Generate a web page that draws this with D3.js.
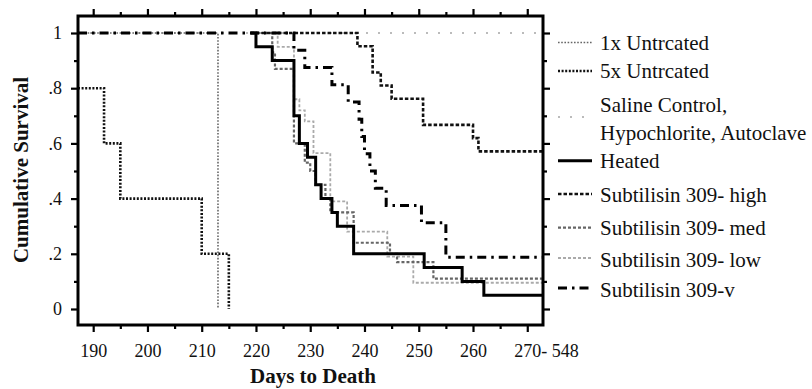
<!DOCTYPE html>
<html>
<head>
<meta charset="utf-8">
<script src="https://cdn.jsdelivr.net/npm/d3@7"></script>
<style>
  html, body { margin: 0; padding: 0; background: #fff; }
  svg { display: block; }
  text { font-family: "Liberation Serif", "Times New Roman", serif; fill: #111; }
</style>
</head>
<body>
<svg id="chart" width="812" height="389"></svg>
<script>
// ---- data ----
const xMajorTicks = [190, 200, 210, 220, 230, 240, 250, 260, 270];
const xMinorTicks = [195, 205, 215, 225, 235, 245, 255, 265];
const xTickLabels = ["190", "200", "210", "220", "230", "240", "250", "260", "270- 548"];
const yMajorTicks = [0, 0.2, 0.4, 0.6, 0.8, 1];
const yMinorTicks = [0.1, 0.3, 0.5, 0.7, 0.9];
const yTickLabels = ["0", ".2", ".4", ".6", ".8", "1"];

const seriesNames = ["1x Untrcated", "5x Untrcated", "Saline Control,|Hypochlorite, Autoclave",
  "Heated", "Subtilisin 309- high", "Subtilisin 309- med", "Subtilisin 309- low", "Subtilisin 309-v"];

// step points (day, cumulative survival)
const days1x = [187.2, 213];
const surv1x = [1, 0];
const days5x = [187.2, 192, 195, 210, 215];
const surv5x = [0.8, 0.6, 0.4, 0.2, 0];
const daysSaline = [187.2, 272.9];
const survSaline = [1, 1];
const daysHeated = [219, 220, 223, 227, 228, 229.5, 231, 232, 234, 235, 238, 251, 258, 262, 272.9];
const survHeated = [1, 0.95, 0.9, 0.7, 0.6, 0.55, 0.45, 0.4, 0.35, 0.3, 0.2, 0.15, 0.1, 0.05, 0.05];
const daysHigh = [219, 238.7, 241.5, 243, 245, 250.8, 260, 261, 272.9];
const survHigh = [1, 0.952, 0.857, 0.81, 0.762, 0.667, 0.619, 0.571, 0.571];
const daysMed = [219, 223, 223.5, 227, 229, 230, 231, 232.8, 233.7, 238, 244.7, 246, 252.7, 272.9];
const survMed = [1, 0.93, 0.87, 0.6, 0.53, 0.5, 0.45, 0.4, 0.35, 0.24, 0.2, 0.17, 0.11, 0.11];
const daysLow = [219, 224, 227, 228, 229, 230.6, 233.7, 236.8, 244.2, 249, 272.9];
const survLow = [1, 0.95, 0.76, 0.72, 0.68, 0.565, 0.39, 0.28, 0.19, 0.095, 0.095];
const daysV = [187.2, 227, 229, 234, 237, 239, 239.5, 240, 241, 242, 244, 250.5, 255, 272.9];
const survV = [1, 0.9375, 0.875, 0.8125, 0.75, 0.6875, 0.625, 0.5625, 0.5, 0.4375, 0.375, 0.3125, 0.1875, 0.1875];

// ---- layout ----
const svg = d3.select("#chart");
const L = 78, R = 543, T = 16, B = 325;
const x = d3.scaleLinear().domain([187.2, 272.9]).range([L, R]);
const y = d3.scaleLinear().domain([-0.058, 1.0616]).range([B, T]);

const styles = [
  { color: "#666", width: 1.6, dash: "1.6,1.6" },
  { color: "#111", width: 2.6, dash: "2,1.6" },
  { color: "#bbb", width: 2, dash: "2,10" },
  { color: "#000", width: 3, dash: null },
  { color: "#111", width: 2.6, dash: "3.5,2" },
  { color: "#666", width: 2.2, dash: "3,2" },
  { color: "#aaa", width: 1.8, dash: "3,2" },
  { color: "#000", width: 3, dash: "9,5,2.5,5" }
];

const series = [
  [days1x, surv1x], [days5x, surv5x], [daysSaline, survSaline], [daysHeated, survHeated],
  [daysHigh, survHigh], [daysMed, survMed], [daysLow, survLow], [daysV, survV]
];
const drawOrder = [2, 6, 5, 0, 1, 3, 4, 7];

svg.append("defs").append("clipPath").attr("id", "plotclip")
  .append("rect").attr("x", L).attr("y", T).attr("width", R - L).attr("height", B - T);

const line = d3.line().x(d => x(d[0])).y(d => y(d[1])).curve(d3.curveStepAfter);
const plot = svg.append("g").attr("clip-path", "url(#plotclip)");
drawOrder.forEach(i => {
  const [ds, ss] = series[i];
  const pts = ds.map((d, k) => [d, ss[k]]);
  plot.append("path").datum(pts)
    .attr("d", line)
    .attr("fill", "none")
    .attr("stroke", styles[i].color)
    .attr("stroke-width", styles[i].width)
    .attr("stroke-dasharray", styles[i].dash)
    .attr("stroke-linejoin", "miter");
});

// ---- axes ----
const fs = 18;
function styleAxis(g) {
  g.select(".domain").remove();
  g.selectAll(".tick line").attr("stroke", "#000").attr("stroke-width", 2.2);
  g.selectAll(".tick text").attr("font-size", fs).attr("font-family", "Liberation Serif").attr("fill", "#111");
}
// bottom major with labels
const gxb = svg.append("g").attr("transform", `translate(0,${B})`)
  .call(d3.axisBottom(x).tickValues(xMajorTicks).tickSize(7).tickPadding(12)
    .tickFormat((d, i) => xTickLabels[i]));
styleAxis(gxb);
gxb.selectAll(".tick text").filter((d, i) => xTickLabels[i].length > 3)
  .attr("text-anchor", "start").attr("x", -13.5);
svg.append("g").attr("transform", `translate(0,${B})`)
  .call(d3.axisBottom(x).tickValues(xMinorTicks).tickSize(4).tickFormat(""))
  .call(styleAxis);
// top
svg.append("g").attr("transform", `translate(0,${T})`)
  .call(d3.axisTop(x).tickValues(xMajorTicks).tickSize(7).tickFormat("")).call(styleAxis);
svg.append("g").attr("transform", `translate(0,${T})`)
  .call(d3.axisTop(x).tickValues(xMinorTicks).tickSize(4).tickFormat("")).call(styleAxis);
// left
svg.append("g").attr("transform", `translate(${L},0)`)
  .call(d3.axisLeft(y).tickValues(yMajorTicks).tickSize(7).tickPadding(9)
    .tickFormat((d, i) => yTickLabels[i])).call(styleAxis);
svg.append("g").attr("transform", `translate(${L},0)`)
  .call(d3.axisLeft(y).tickValues(yMinorTicks).tickSize(4).tickFormat("")).call(styleAxis);
// right
svg.append("g").attr("transform", `translate(${R},0)`)
  .call(d3.axisRight(y).tickValues(yMajorTicks).tickSize(7).tickFormat("")).call(styleAxis);
svg.append("g").attr("transform", `translate(${R},0)`)
  .call(d3.axisRight(y).tickValues(yMinorTicks).tickSize(4).tickFormat("")).call(styleAxis);

// frame
svg.append("rect").attr("x", L).attr("y", T).attr("width", R - L).attr("height", B - T)
  .attr("fill", "none").attr("stroke", "#000").attr("stroke-width", 3);

// titles
svg.append("text").attr("x", 313).attr("y", 383).attr("text-anchor", "middle")
  .attr("font-size", 21).attr("font-weight", "bold").text("Days to Death");
svg.append("text").attr("transform", "translate(28,170) rotate(-90)").attr("text-anchor", "middle")
  .attr("font-size", 21).attr("font-weight", "bold").text("Cumulative Survival");

// ---- legend ----
const legendLineY = [42.5, 71, 117, 160.7, 194, 227.7, 258, 288];
const legendTextY = [[50], [78], [111.5, 140], [168], [202], [235], [267], [297]];
const lg = svg.append("g");
seriesNames.forEach((name, i) => {
  lg.append("line").attr("x1", 558).attr("x2", 592)
    .attr("y1", legendLineY[i]).attr("y2", legendLineY[i])
    .attr("stroke", styles[i].color).attr("stroke-width", styles[i].width)
    .attr("stroke-dasharray", styles[i].dash);
  name.split("|").forEach((part, k) => {
    lg.append("text").attr("x", 600).attr("y", legendTextY[i][k])
      .attr("font-size", 21).text(part);
  });
});
</script>
</body>
</html>
